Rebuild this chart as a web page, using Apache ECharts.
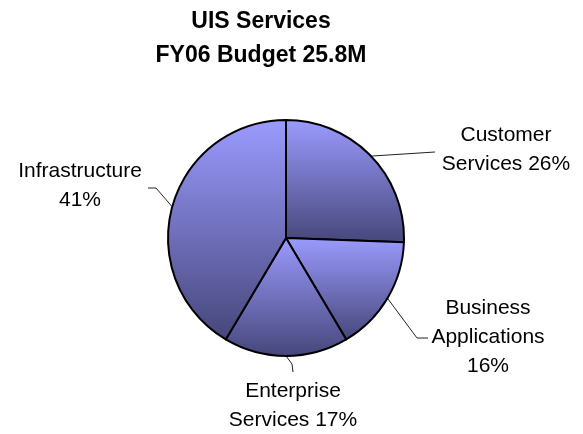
<!DOCTYPE html>
<html>
<head>
<meta charset="utf-8">
<script src="https://cdn.jsdelivr.net/npm/echarts@6/dist/echarts.min.js"></script>
<style>
  html, body { margin: 0; padding: 0; background: #fff; }
  #main { width: 583px; height: 434px; }
</style>
</head>
<body>
<div id="main"></div>
<script>
var categories = ['Customer\nServices', 'Business\nApplications', 'Enterprise\nServices', 'Infrastructure'];
// budget in $M, total 25.8M
var values = [6.6, 4.1, 4.4, 10.7];
// what goes between the name and the percent in each label
var separators = [' ', '\n', ' ', '\n'];

// where each label sits and where its leader line bends
var labelSpots = [
  { x: 506, y: 150, line: [[435, 152], [435, 152]] },
  { x: 488, y: 337, line: [[417, 338], [428, 338]] },
  { x: 293, y: 406, line: [[292, 364], [293, 372]] },
  { x: 80, y: 186, line: [[156, 188], [148, 188]] }
];

var myChart = echarts.init(document.getElementById('main'));

var sliceFill = new echarts.graphic.LinearGradient(0, 0, 0, 1, [
  { offset: 0, color: '#9b9bff' },
  { offset: 1, color: '#46467a' }
]);

var option = {
  animation: false,
  title: {
    text: 'UIS Services\nFY06 Budget 25.8M',
    left: 256,
    top: 0,
    textAlign: 'center',
    textStyle: {
      fontFamily: 'Liberation Sans',
      fontWeight: 'bold',
      fontSize: 23,
      lineHeight: 34,
      color: '#000'
    }
  },
  series: [
    {
      type: 'pie',
      center: [286, 238],
      radius: 118,
      startAngle: 90,
      clockwise: true,
      avoidLabelOverlap: false,
      itemStyle: {
        color: sliceFill,
        borderColor: '#000',
        borderWidth: 2
      },
      label: {
        show: true,
        position: 'outside',
        fontFamily: 'Liberation Sans',
        fontSize: 21,
        lineHeight: 29,
        color: '#000',
        align: 'center',
        formatter: function (p) {
          return p.name + separators[p.dataIndex] + Math.round(p.percent) + '%';
        }
      },
      labelLine: {
        show: true,
        length: 20,
        length2: 10,
        lineStyle: { color: '#222', width: 1 }
      },
      labelLayout: function (params) {
        var s = labelSpots[params.dataIndex];
        var start = params.labelLinePoints ? params.labelLinePoints[0] : s.line[0];
        return {
          x: s.x,
          y: s.y,
          align: 'center',
          verticalAlign: 'middle',
          labelLinePoints: [start, s.line[0], s.line[1]]
        };
      },
      emphasis: { disabled: true },
      data: categories.map(function (name, i) {
        return { name: name, value: values[i] };
      })
    }
  ]
};

myChart.setOption(option);
</script>
</body>
</html>
